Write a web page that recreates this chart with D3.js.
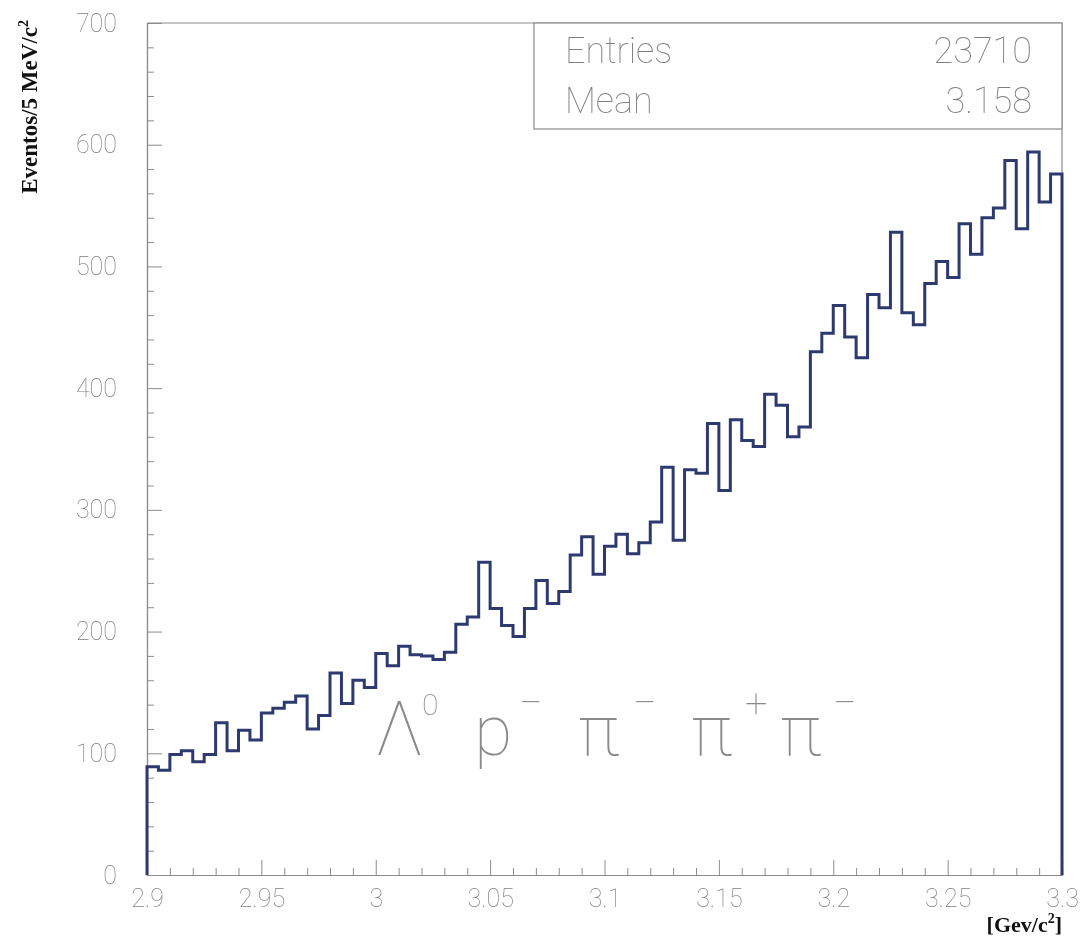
<!DOCTYPE html>
<html>
<head>
<meta charset="utf-8">
<script src="https://cdn.jsdelivr.net/npm/d3@7"></script>
<style>
  html, body { margin: 0; padding: 0; background: #ffffff; }
  svg { display: block; will-change: transform; }
</style>
</head>
<body>
<svg id="chart" width="1087" height="937"></svg>
<script>
// Invariant mass histogram: 80 bins of 5 MeV from 2.9 to 3.3 GeV/c^2
const massRange = [2.9, 3.3];
const binWidth = 0.005;
const counts = [
  89, 86, 99, 102, 93, 99, 125, 102, 119, 111,
  133, 137, 142, 147, 120, 131, 166, 141, 160, 154,
  182, 172, 188, 181, 180, 177, 183, 206, 212, 257,
  219, 205, 196, 219, 242, 223, 233, 263, 278, 247,
  270, 280, 264, 273, 290, 335, 275, 333, 330, 371,
  316, 374, 357, 352, 395, 386, 360, 368, 430, 445,
  468, 442, 425, 477, 466, 528, 462, 452, 486, 504,
  491, 535, 510, 540, 548, 587, 531, 594, 553, 576
];
const xTickValues = [2.9, 2.95, 3.0, 3.05, 3.1, 3.15, 3.2, 3.25, 3.3];
const xTickLabels = ["2.9", "2.95", "3", "3.05", "3.1", "3.15", "3.2", "3.25", "3.3"];
const yTickValues = [0, 100, 200, 300, 400, 500, 600, 700];
const yTickLabels = ["0", "100", "200", "300", "400", "500", "600", "700"];
const statNames = ["Entries", "Mean"];
const statValues = ["23710", "3.158"];

const svg = d3.select("#chart");
const plotLeft = 147, plotRight = 1062, plotTop = 23, plotBottom = 875;

const x = d3.scaleLinear().domain(massRange).range([plotLeft, plotRight]);
const y = d3.scaleLinear().domain([0, 700]).range([plotBottom, plotTop]);

const axisColor = "#8c8c8c";
const labelColor = "#7f7f7f";
const thinFont = "Roboto, 'DejaVu Sans', sans-serif";

// Frame: top and right borders
svg.append("line").attr("x1", plotLeft).attr("x2", plotRight).attr("y1", plotTop).attr("y2", plotTop)
  .attr("stroke", axisColor).attr("stroke-width", 1.2);
svg.append("line").attr("x1", plotRight).attr("x2", plotRight).attr("y1", plotTop).attr("y2", plotBottom)
  .attr("stroke", axisColor).attr("stroke-width", 1.2);

// Minor ticks
const xMinor = d3.range(0, 41).map(i => massRange[0] + i * 0.01).filter((v, i) => i % 5 !== 0);
const yMinor = d3.range(0, 36).map(i => i * 20).filter(v => v % 100 !== 0);

const xAxisMinor = svg.append("g").attr("transform", `translate(0,${plotBottom})`)
  .call(d3.axisBottom(x).tickValues(xMinor).tickSize(-7).tickFormat(""));
const yAxisMinor = svg.append("g").attr("transform", `translate(${plotLeft},0)`)
  .call(d3.axisLeft(y).tickValues(yMinor).tickSize(-7).tickFormat(""));

const xAxis = svg.append("g").attr("transform", `translate(0,${plotBottom})`)
  .call(d3.axisBottom(x).tickValues(xTickValues).tickSize(-15).tickPadding(14)
    .tickFormat((d, i) => xTickLabels[i]));
const yAxis = svg.append("g").attr("transform", `translate(${plotLeft},0)`)
  .call(d3.axisLeft(y).tickValues(yTickValues).tickSize(-15).tickPadding(30)
    .tickFormat((d, i) => yTickLabels[i]));

[xAxisMinor, yAxisMinor, xAxis, yAxis].forEach(g => {
  g.selectAll(".domain").attr("stroke", axisColor).attr("stroke-width", 1.2);
  g.selectAll(".tick line").attr("stroke", axisColor).attr("stroke-width", 1);
});
[xAxis, yAxis].forEach(g => {
  g.selectAll(".tick text")
    .attr("fill", labelColor)
    .style("font-family", thinFont)
    .style("font-weight", 100)
    .style("font-size", "25px");
});
xAxis.selectAll(".tick text").attr("dy", "0.71em");

// Histogram outline (step line closed down to zero at both ends)
const pts = [[x(massRange[0]), y(0)]];
counts.forEach((c, i) => {
  const x0 = massRange[0] + i * binWidth;
  pts.push([x(x0), y(c)]);
  pts.push([x(x0 + binWidth), y(c)]);
});
pts.push([x(massRange[1]), y(0)]);

svg.append("path")
  .attr("d", d3.line()(pts))
  .attr("fill", "none")
  .attr("stroke", "#2d3a70")
  .attr("stroke-width", 3)
  .attr("stroke-linejoin", "miter");

// Statistics box
const boxLeft = 534, boxBottom = 129;
svg.append("rect")
  .attr("x", boxLeft).attr("y", plotTop)
  .attr("width", plotRight - boxLeft).attr("height", boxBottom - plotTop)
  .attr("fill", "#ffffff").attr("stroke", axisColor).attr("stroke-width", 1.2);
const statBaselines = [63, 113];
statNames.forEach((name, i) => {
  svg.append("text").attr("x", 565).attr("y", statBaselines[i])
    .text(name)
    .attr("fill", labelColor).style("font-family", thinFont)
    .style("font-weight", 100).style("font-size", "36px");
  svg.append("text").attr("x", 1032).attr("y", statBaselines[i])
    .attr("text-anchor", "end")
    .text(statValues[i])
    .attr("fill", labelColor).style("font-family", thinFont)
    .style("font-weight", 100).style("font-size", "36px");
});

// Axis titles
const yTitle = svg.append("text")
  .attr("transform", "translate(37,20) rotate(-90)")
  .attr("text-anchor", "end")
  .style("font-family", "'Liberation Serif', 'Times New Roman', serif")
  .style("font-weight", "bold").style("font-size", "23px")
  .attr("fill", "#111");
yTitle.append("tspan").text("Eventos/5 MeV/c");
yTitle.append("tspan").attr("dy", -9).style("font-size", "14px").text("2");

const xTitle = svg.append("text")
  .attr("x", 1062).attr("y", 932)
  .attr("text-anchor", "end")
  .style("font-family", "'Liberation Serif', 'Times New Roman', serif")
  .style("font-weight", "bold").style("font-size", "22px")
  .attr("fill", "#111");
xTitle.append("tspan").text("[Gev/c");
xTitle.append("tspan").attr("dy", -9).style("font-size", "14px").text("2");
xTitle.append("tspan").attr("dy", 9).text("]");

// Decay channel label: Λ0 p− π− π+ π−
const channel = svg.append("g")
  .attr("fill", "#8a8a8a")
  .style("font-family", thinFont)
  .style("font-weight", 100);
const glyph = (txt, gx, gy, size) => channel.append("text")
  .attr("x", gx).attr("y", gy).style("font-size", size + "px").text(txt);
glyph("Λ", 375, 755, 76);
glyph("0", 422, 715, 30);
glyph("p", 474, 755, 70);
glyph("−", 519, 717, 42);
glyph("π", 578, 755, 70);
glyph("−", 633, 717, 42);
glyph("π", 691, 755, 70);
glyph("+", 745, 717, 40);
glyph("π", 780, 755, 70);
glyph("−", 833, 717, 42);
</script>
</body>
</html>
